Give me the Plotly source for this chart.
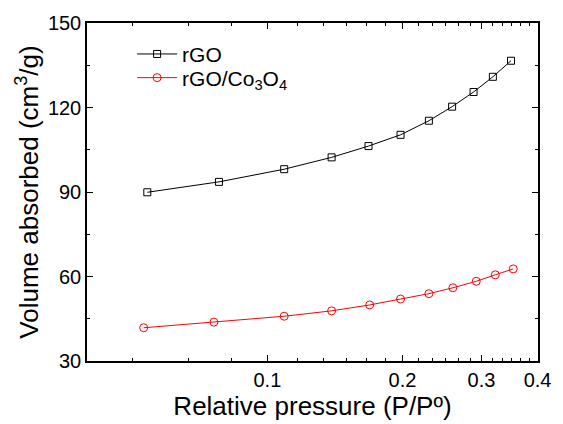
import plotly.graph_objects as go

# Data
x_rgo = [0.054, 0.078, 0.109, 0.139, 0.168, 0.198, 0.229, 0.258, 0.288, 0.318, 0.349]
y_rgo = [89.9, 93.6, 98.1, 102.3, 106.3, 110.3, 115.3, 120.3, 125.5, 130.9, 136.6]
x_co = [0.053, 0.076, 0.109, 0.139, 0.169, 0.198, 0.229, 0.259, 0.292, 0.322, 0.353]
y_co = [41.8, 43.8, 45.9, 47.8, 49.9, 52.0, 53.9, 56.0, 58.3, 60.6, 62.7]

x_ticks = [0.1, 0.2, 0.3, 0.4]
x_ticklabels = ["0.1", "0.2", "0.3", "0.4"]
x_minor = [0.05, 0.0667, 0.0833, 0.1167, 0.1333, 0.15, 0.1667, 0.1833,
           0.2167, 0.2333, 0.25, 0.2667, 0.2833,
           0.3167, 0.3333, 0.35, 0.3667, 0.3833]
y_ticks = [30, 60, 90, 120, 150]
y_minor = [45, 75, 105, 135]

FONT = "Liberation Sans, Arial, sans-serif"

fig = go.Figure()
fig.add_trace(go.Scatter(
    x=x_rgo, y=y_rgo, mode="lines+markers", name="rGO", legend="legend",
    line=dict(color="black", width=1),
    marker=dict(symbol="square-open", size=7, color="black", line=dict(width=1))))
fig.add_trace(go.Scatter(
    x=x_co, y=y_co, mode="lines+markers", name="rGO/Co<sub>3</sub>O<sub>4</sub>", legend="legend2",
    line=dict(color="red", width=1),
    marker=dict(symbol="circle-open", size=8, color="red", line=dict(width=1))))

axis_common = dict(
    showline=True, linecolor="black", linewidth=1.5, mirror="allticks",
    ticks="inside", ticklen=6, tickwidth=1, tickcolor="black",
    showgrid=False, zeroline=False,
    tickfont=dict(family=FONT, size=20, color="black"),
)

fig.update_xaxes(
    type="log", range=[-1.402, -0.397],
    tickmode="array", tickvals=x_ticks, ticktext=x_ticklabels,
    minor=dict(tickmode="array", tickvals=x_minor, ticks="inside", ticklen=3,
               tickcolor="black", tickwidth=1, showgrid=False),
    title=dict(text="Relative pressure (P/Pº)", font=dict(family=FONT, size=26, color="black"),
               standoff=3),
    **axis_common)
fig.update_yaxes(
    range=[30, 150], tickmode="array", tickvals=y_ticks,
    minor=dict(tickmode="array", tickvals=y_minor, ticks="inside", ticklen=3,
               tickcolor="black", tickwidth=1, showgrid=False),
    title=dict(text="Volume absorbed (cm<sup>3</sup>/g)", font=dict(family=FONT, size=26, color="black"),
               standoff=2),
    **axis_common)

legend_common = dict(xanchor="left", yanchor="top", bgcolor="rgba(0,0,0,0)",
                     font=dict(family=FONT, size=21, color="black"), itemwidth=40)

fig.update_layout(
    width=563, height=424,
    margin=dict(l=87, r=16, t=23, b=62),
    paper_bgcolor="white", plot_bgcolor="white",
    font=dict(family=FONT, color="black"),
    showlegend=True,
    legend=dict(x=0.1, y=0.968, **legend_common),
    legend2=dict(x=0.1, y=0.898, **legend_common),
)

fig.write_html("out.html")
